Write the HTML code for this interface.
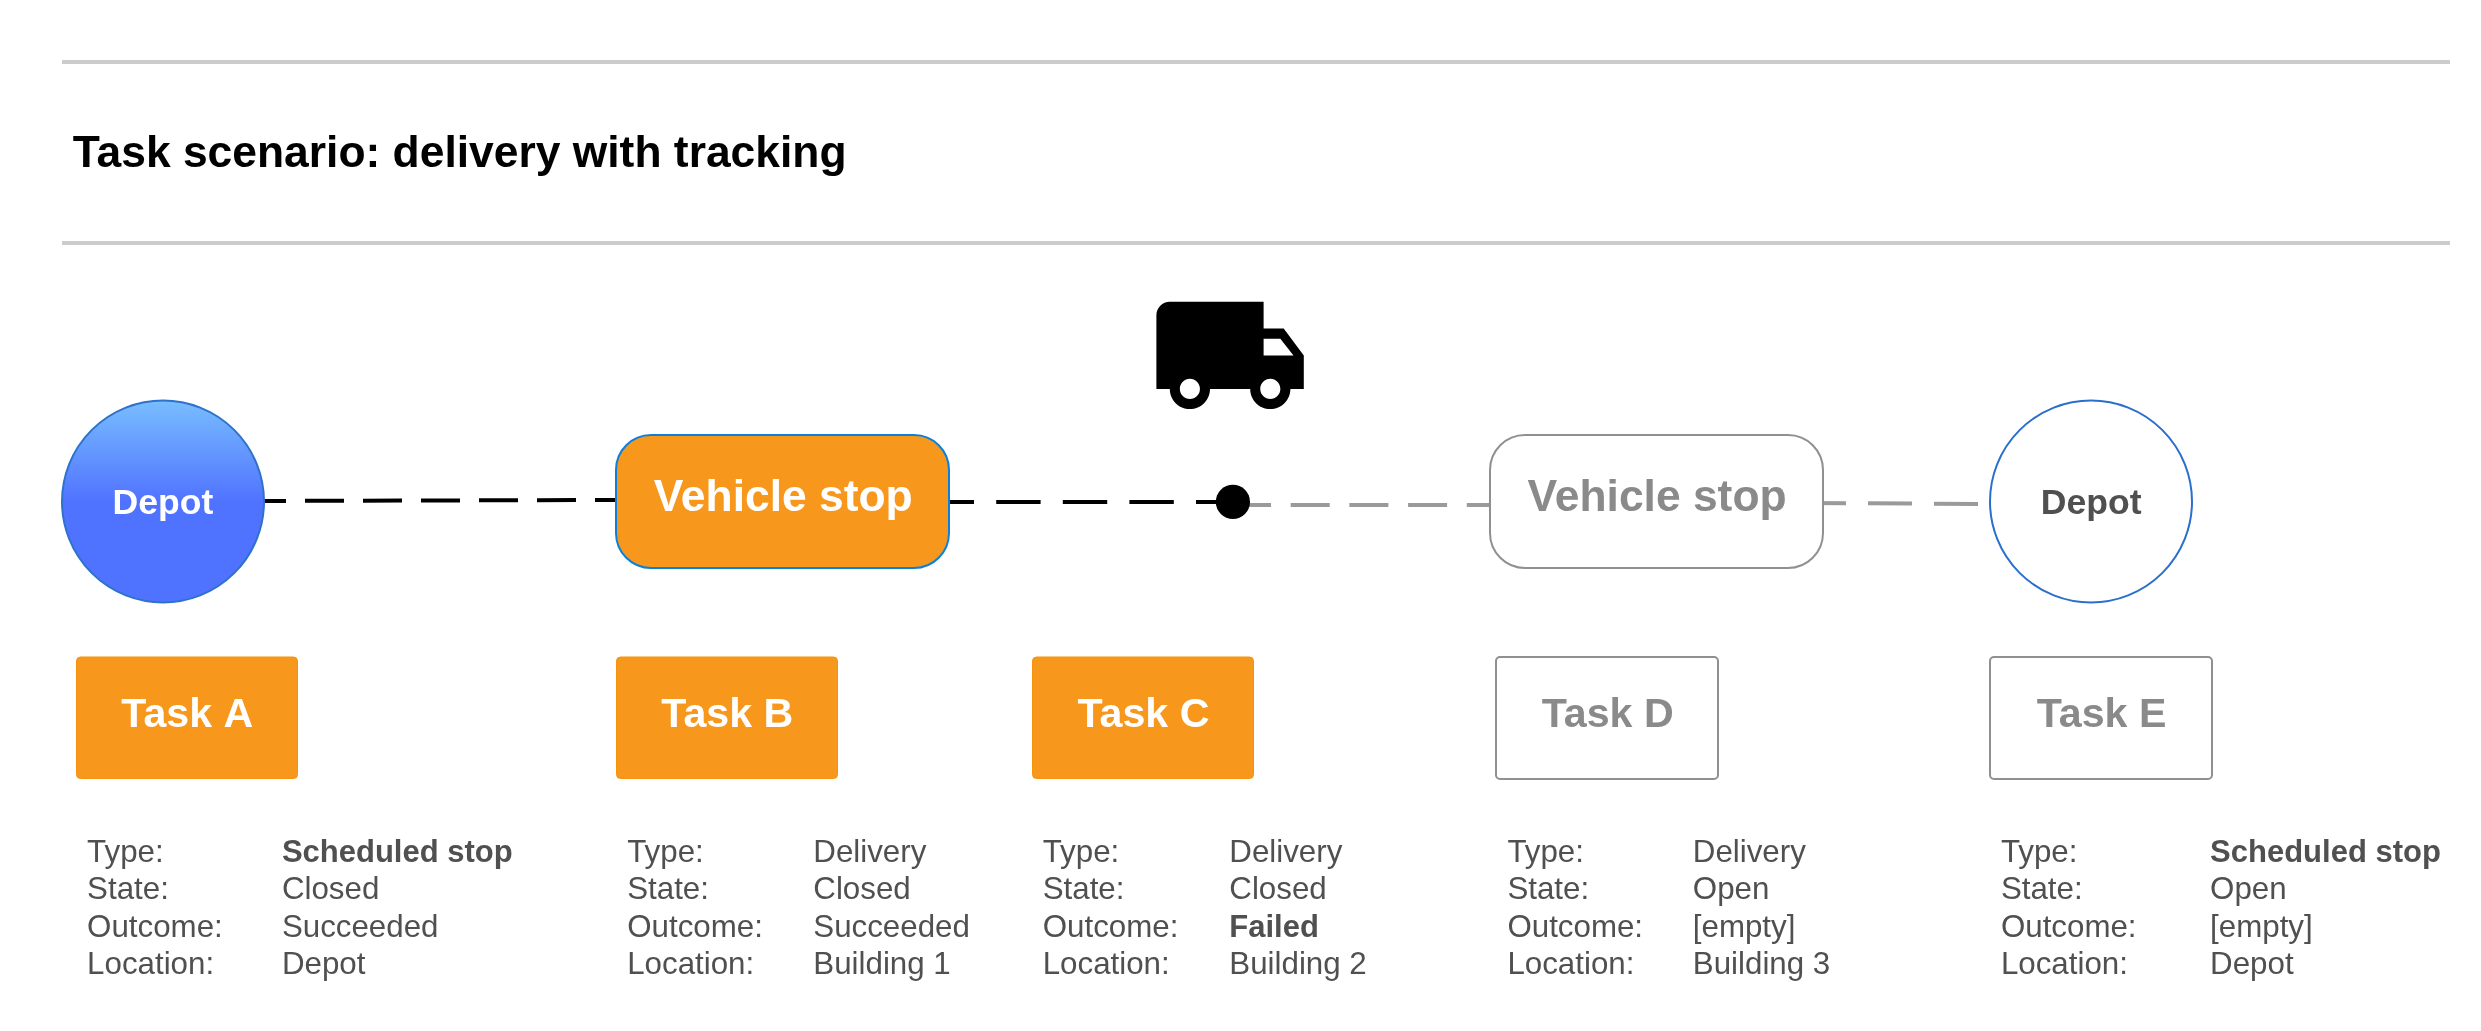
<!DOCTYPE html>
<html>
<head>
<meta charset="utf-8">
<style>
html,body{margin:0;padding:0;background:#fff;}
body{width:2481px;height:1031px;overflow:hidden;position:relative;}
svg{position:absolute;left:0;top:0;will-change:transform;}
text{font-family:"Liberation Sans",sans-serif;}
.b{font-weight:bold;}
.info{font-size:31.3px;fill:#505050;}
.info .b{font-size:31px;}
</style>
</head>
<body>
<svg width="2481" height="1031" viewBox="0 0 2481 1031">
<defs>
<linearGradient id="bg" x1="0" y1="0" x2="0" y2="1">
<stop offset="0" stop-color="#79bdff"/>
<stop offset="0.5" stop-color="#5073ff"/>
<stop offset="1" stop-color="#5073ff"/>
</linearGradient>
</defs>
<!-- rules -->
<rect x="62" y="60" width="2388" height="4" fill="#cccccc"/>
<rect x="62" y="241" width="2388" height="4" fill="#cccccc"/>
<!-- title -->
<text x="72.7" y="166.8" class="b" font-size="44.4" fill="#000">Task scenario: delivery with tracking</text>

<!-- connectors -->
<line x1="247" y1="501" x2="615" y2="500" stroke="#000" stroke-width="4" stroke-dasharray="39 19"/>
<line x1="929.6" y1="502" x2="1216" y2="502" stroke="#000" stroke-width="4" stroke-dasharray="44.4 22.2"/>
<line x1="1232" y1="505" x2="1489" y2="505" stroke="#9a9a9a" stroke-width="4" stroke-dasharray="39 19.7"/>
<line x1="1802" y1="503" x2="1989" y2="504" stroke="#9a9a9a" stroke-width="4" stroke-dasharray="44 22"/>

<!-- depot 1 -->
<circle cx="163" cy="501.5" r="101" fill="url(#bg)" stroke="#2e72cc" stroke-width="2"/>
<text x="112.5" y="513.8" class="b" font-size="35.6" fill="#fff">Depot</text>

<!-- vehicle stop 1 -->
<rect x="616" y="435" width="333" height="133" rx="35" ry="35" fill="#f7981d" stroke="#0a80da" stroke-width="2"/>
<text x="653.7" y="511" class="b" font-size="44.4" fill="#fff">Vehicle stop</text>

<!-- dot -->
<circle cx="1232.9" cy="501.9" r="17.1" fill="#000"/>

<!-- truck -->
<g transform="translate(1149.7,275.0) scale(6.7)">
<path fill="#000" d="M20 8h-3V4H3c-1.1 0-2 .9-2 2v11h2c0 1.66 1.34 3 3 3s3-1.34 3-3h6c0 1.66 1.34 3 3 3s3-1.34 3-3h2v-5l-3-4zM6 18.5c-.83 0-1.5-.67-1.5-1.5s.67-1.5 1.5-1.5 1.5.67 1.5 1.5-.67 1.5-1.5 1.5zm13.5-9l1.96 2.5H17V9.5h2.5zm-1.5 9c-.83 0-1.5-.67-1.5-1.5s.67-1.5 1.5-1.5 1.5.67 1.5 1.5-.67 1.5-1.5 1.5z"/>
</g>

<!-- vehicle stop 2 -->
<rect x="1490" y="435" width="333" height="133" rx="35" ry="35" fill="#fff" stroke="#909090" stroke-width="2"/>
<text x="1527.6" y="511" class="b" font-size="44.4" fill="#8a8a8a">Vehicle stop</text>

<!-- depot 2 -->
<circle cx="2091" cy="501.5" r="101" fill="#fff" stroke="#2a6fcc" stroke-width="2"/>
<text x="2040.7" y="513.8" class="b" font-size="35.6" fill="#505050">Depot</text>

<!-- tasks -->
<rect x="76.5" y="657" width="221" height="121.5" rx="4" fill="#f7981d" stroke="#f7920f" stroke-width="1"/>
<text x="121.35" y="726.5" class="b" font-size="41.2" fill="#fff">Task <tspan dx="1.5">A</tspan></text>
<rect x="616.5" y="657" width="221" height="121.5" rx="4" fill="#f7981d" stroke="#f7920f" stroke-width="1"/>
<text x="661.35" y="726.5" class="b" font-size="41.2" fill="#fff">Task B</text>
<rect x="1032.5" y="657" width="221" height="121.5" rx="4" fill="#f7981d" stroke="#f7920f" stroke-width="1"/>
<text x="1077.45" y="726.5" class="b" font-size="41.2" fill="#fff">Task C</text>
<rect x="1496" y="657" width="222" height="122" rx="4" fill="#fff" stroke="#909090" stroke-width="2"/>
<text x="1541.65" y="726.5" class="b" font-size="41.2" fill="#8a8a8a">Task D</text>
<rect x="1990" y="657" width="222" height="122" rx="4" fill="#fff" stroke="#909090" stroke-width="2"/>
<text x="2036.65" y="726.5" class="b" font-size="41.2" fill="#8a8a8a">Task E</text>

<!-- info A -->
<g class="info">
<text x="87.1" y="861.6">Type:</text><text x="87.1" y="899.2">State:</text><text x="87.1" y="936.5">Outcome:</text><text x="87.1" y="973.6">Location:</text>
<text x="281.9" y="861.6" class="b">Scheduled stop</text><text x="281.9" y="899.2">Closed</text><text x="281.9" y="936.5">Succeeded</text><text x="281.9" y="973.6">Depot</text>
</g>
<!-- info B -->
<g class="info">
<text x="627.2" y="861.6">Type:</text><text x="627.2" y="899.2">State:</text><text x="627.2" y="936.5">Outcome:</text><text x="627.2" y="973.6">Location:</text>
<text x="813.3" y="861.6">Delivery</text><text x="813.3" y="899.2">Closed</text><text x="813.3" y="936.5">Succeeded</text><text x="813.3" y="973.6">Building 1</text>
</g>
<!-- info C -->
<g class="info">
<text x="1042.7" y="861.6">Type:</text><text x="1042.7" y="899.2">State:</text><text x="1042.7" y="936.5">Outcome:</text><text x="1042.7" y="973.6">Location:</text>
<text x="1229.3" y="861.6">Delivery</text><text x="1229.3" y="899.2">Closed</text><text x="1229.3" y="936.5" class="b">Failed</text><text x="1229.3" y="973.6">Building 2</text>
</g>
<!-- info D -->
<g class="info">
<text x="1507.4" y="861.6">Type:</text><text x="1507.4" y="899.2">State:</text><text x="1507.4" y="936.5">Outcome:</text><text x="1507.4" y="973.6">Location:</text>
<text x="1692.8" y="861.6">Delivery</text><text x="1692.8" y="899.2">Open</text><text x="1692.8" y="936.5">[empty]</text><text x="1692.8" y="973.6">Building 3</text>
</g>
<!-- info E -->
<g class="info">
<text x="2000.9" y="861.6">Type:</text><text x="2000.9" y="899.2">State:</text><text x="2000.9" y="936.5">Outcome:</text><text x="2000.9" y="973.6">Location:</text>
<text x="2210.1" y="861.6" class="b">Scheduled stop</text><text x="2210.1" y="899.2">Open</text><text x="2210.1" y="936.5">[empty]</text><text x="2210.1" y="973.6">Depot</text>
</g>
</svg>
</body>
</html>
